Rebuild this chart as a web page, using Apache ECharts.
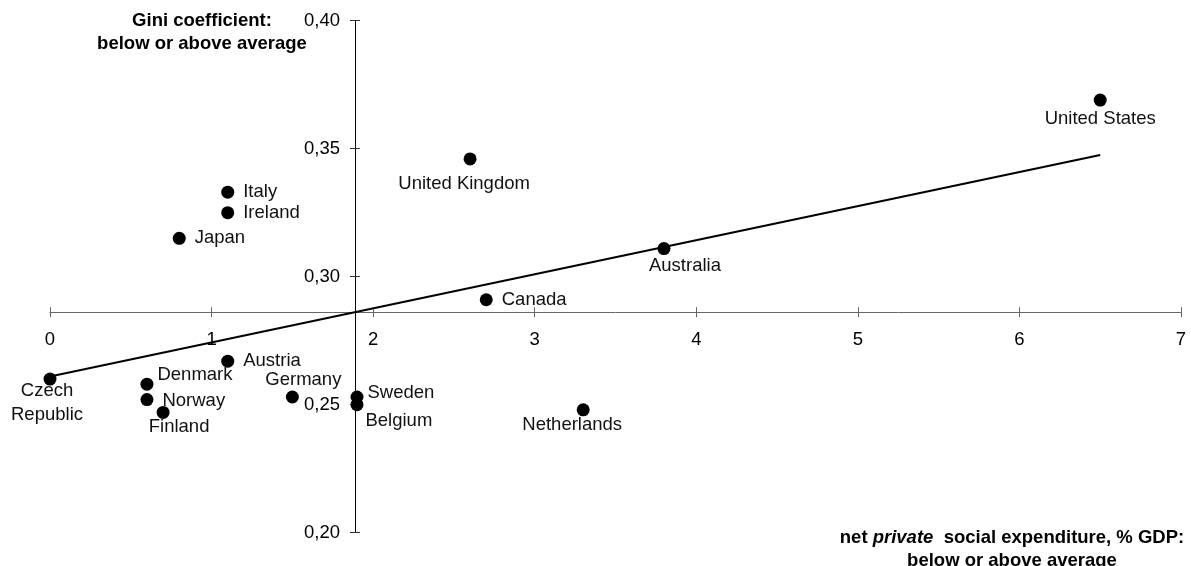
<!DOCTYPE html>
<html>
<head>
<meta charset="utf-8">
<script src="https://cdn.jsdelivr.net/npm/echarts@6/dist/echarts.min.js"></script>
<style>
html, body { margin: 0; padding: 0; background: #fff; }
#chart { width: 1191px; height: 566px; }
</style>
</head>
<body>
<div id="chart"></div>
<script>
var countries = ['United States', 'United Kingdom', 'Italy', 'Ireland', 'Japan', 'Australia', 'Canada', 'Austria',
    'Czech Republic', 'Denmark', 'Norway', 'Finland', 'Germany', 'Sweden', 'Belgium', 'Netherlands'];
var privateExp = [6.5, 2.6, 1.1, 1.1, 0.8, 3.8, 2.7, 1.1, 0.0, 0.6, 0.6, 0.7, 1.5, 1.9, 1.9, 3.3];
var gini = [0.369, 0.346, 0.333, 0.325, 0.315, 0.311, 0.291, 0.267, 0.260, 0.258, 0.252, 0.247, 0.253, 0.253, 0.250, 0.248];

var xTicks = [0, 1, 2, 3, 4, 5, 6, 7];
var yTicks = [0.20, 0.25, 0.30, 0.35, 0.40];

// where each country name sits: position, dx, dy
var labelPlace = {
    'United States': ['bottom', 0, -3],
    'United Kingdom': ['bottom', -6, 3],
    'Italy': ['right', 4, 0],
    'Ireland': ['right', 4, 0],
    'Japan': ['right', 4, 0],
    'Australia': ['bottom', 21, -4],
    'Canada': ['right', 4, 0],
    'Austria': ['right', 4, 0],
    'Czech Republic': ['bottom', -3, -12],
    'Denmark': ['right', -1, -9],
    'Norway': ['right', 4, 1],
    'Finland': ['bottom', 16, -7],
    'Germany': ['top', 11, 4],
    'Sweden': ['right', -1, -4],
    'Belgium': ['right', -3, 16],
    'Netherlands': ['bottom', -11, -6]
};

var FONT = 'Liberation Sans, Arial, Helvetica, sans-serif';

function mean(a) {
    var s = 0;
    for (var i = 0; i < a.length; i++) s += a[i];
    return s / a.length;
}

var meanX = mean(privateExp), meanY = mean(gini);
var sxy = 0, sxx = 0;
for (var i = 0; i < privateExp.length; i++) {
    sxy += (privateExp[i] - meanX) * (gini[i] - meanY);
    sxx += (privateExp[i] - meanX) * (privateExp[i] - meanX);
}
var slope = sxy / sxx, intercept = meanY - slope * meanX;
var xLo = Math.min.apply(null, privateExp), xHi = Math.max.apply(null, privateExp);

var points = [];
for (var j = 0; j < countries.length; j++) {
    var p = labelPlace[countries[j]];
    points.push({
        name: countries[j],
        value: [privateExp[j], gini[j]],
        label: {
            position: p[0],
            offset: [p[1], p[2]],
            formatter: countries[j] === 'Czech Republic' ? 'Czech\nRepublic' : '{b}',
            lineHeight: countries[j] === 'Czech Republic' ? 24 : 20
        }
    });
}

function xAxisDef(ticksOnly) {
    return {
        type: 'value', gridIndex: 0, position: 'bottom',
        min: xTicks[0], max: xTicks[xTicks.length - 1], interval: xTicks[1] - xTicks[0],
        axisLine: { show: !ticksOnly, onZero: false, lineStyle: { color: '#666', width: 1 } },
        axisTick: { show: true, inside: ticksOnly, length: 5, lineStyle: { color: '#666', width: 1 } },
        axisLabel: { show: !ticksOnly, margin: 18, color: '#000', fontSize: 18.5, fontFamily: FONT, showMinLabel: true, showMaxLabel: true },
        splitLine: { show: false }
    };
}
function yAxisDef(ticksOnly) {
    return {
        type: 'value', gridIndex: 0, position: 'left',
        min: yTicks[0], max: yTicks[yTicks.length - 1], interval: yTicks[1] - yTicks[0],
        axisLine: { show: !ticksOnly, onZero: false, lineStyle: { color: '#000', width: 1 } },
        axisTick: { show: true, inside: ticksOnly, length: 5, lineStyle: { color: '#333', width: 1 } },
        axisLabel: {
            show: !ticksOnly, margin: 15, color: '#000', fontSize: 18.5, fontFamily: FONT,
            formatter: function (v) { return v.toFixed(2).replace('.', ','); }
        },
        splitLine: { show: false }
    };
}

var chart = echarts.init(document.getElementById('chart'), null, { renderer: 'canvas' });
var option = {
    animation: false,
    backgroundColor: '#fff',
    textStyle: { fontFamily: FONT },
    grid: { left: 50, right: 10, top: 20.7, bottom: 33.3, containLabel: false, outerBoundsMode: 'none' },
    xAxis: [xAxisDef(false), xAxisDef(true)],
    yAxis: [yAxisDef(false), yAxisDef(true)],
    graphic: [
        {
            type: 'text', left: 'auto', x: 202, y: 9, silent: true,
            style: {
                text: 'Gini coefficient:\nbelow or above average',
                font: 'bold 18.5px ' + FONT, fill: '#000',
                textAlign: 'center', align: 'center', textVerticalAlign: 'top', verticalAlign: 'top',
                lineHeight: 23
            }
        },
        {
            type: 'text', x: 1012, y: 526.5, silent: true,
            style: {
                text: '{b|net }{i|private}{b|  social expenditure, % GDP:}\n{b|below or above average}',
                rich: {
                    b: { font: 'bold 18.5px ' + FONT, fill: '#000', lineHeight: 23 },
                    i: { font: 'italic bold 18.5px ' + FONT, fill: '#000', lineHeight: 23 }
                },
                textAlign: 'center', align: 'center', textVerticalAlign: 'top', verticalAlign: 'top'
            }
        }
    ],
    series: [
        {
            type: 'line',
            xAxisIndex: 0, yAxisIndex: 0,
            data: [[xLo, intercept + slope * xLo], [xHi, intercept + slope * xHi]],
            symbol: 'none',
            lineStyle: { color: '#000', width: 2 },
            z: 2,
            silent: true
        },
        {
            type: 'scatter',
            xAxisIndex: 0, yAxisIndex: 0,
            data: points,
            symbolSize: 13,
            itemStyle: { color: '#000', opacity: 1 },
            label: { show: true, color: '#111', fontSize: 18.5, fontFamily: FONT, distance: 5 },
            z: 3,
            silent: true
        }
    ]
};
chart.setOption(option);

// move both axes so they cross at the averages
var origin = chart.convertToPixel({ seriesIndex: 1 }, [xTicks[0], yTicks[0]]);
var cross = chart.convertToPixel({ seriesIndex: 1 }, [meanX, meanY]);
var xOff = cross[1] - origin[1], yOff = origin[0] - cross[0];
chart.setOption({
    xAxis: [{ offset: xOff }, { offset: xOff }],
    yAxis: [{ offset: yOff }, { offset: yOff }]
});
</script>
</body>
</html>
